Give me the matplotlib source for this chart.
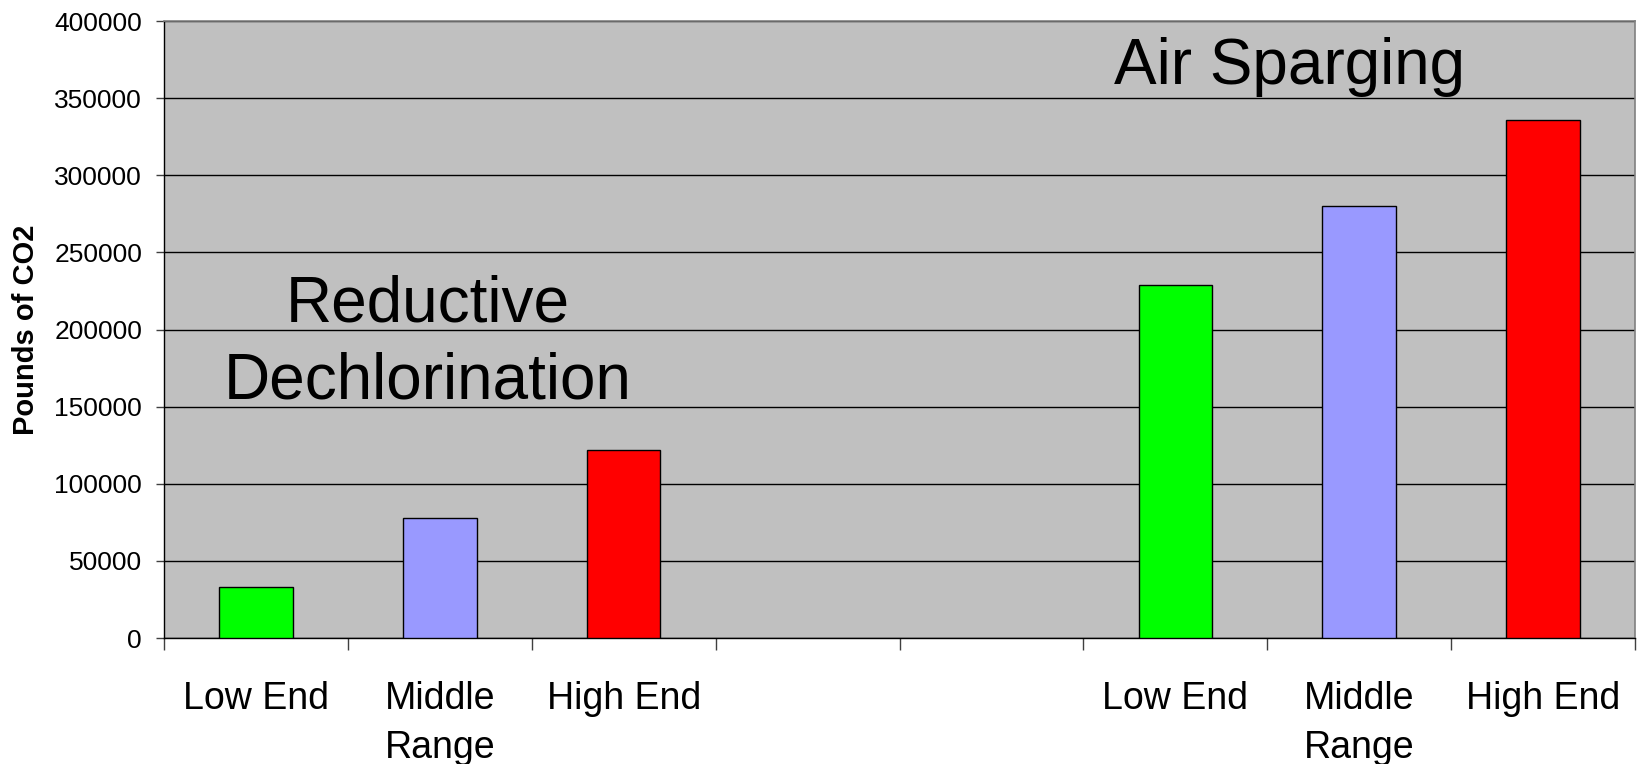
import matplotlib
matplotlib.use("Agg")
import matplotlib.pyplot as plt
import numpy as np

# Category slots along the x axis (two empty slots separate the groups)
categories = ["Low End", "Middle\nRange", "High End", "", "", "Low End", "Middle\nRange", "High End"]
values = [33000, 78000, 122000, 0, 0, 229000, 280000, 336000]
bar_colors = ["#00FF00", "#9999FF", "#FF0000", "none", "none", "#00FF00", "#9999FF", "#FF0000"]
y_ticks = [0, 50000, 100000, 150000, 200000, 250000, 300000, 350000, 400000]

plt.rcParams["font.family"] = ["Liberation Sans", "DejaVu Sans"]

fig = plt.figure(figsize=(16.4, 7.64), dpi=100)
ax = fig.add_axes([0.1, 0.1649, 0.897, 0.8076])
ax.set_facecolor("#C0C0C0")

x = np.arange(len(categories))
shown = [i for i, v in enumerate(values) if v > 0]
ax.bar(x[shown], [values[i] for i in shown], width=0.4,
       color=[bar_colors[i] for i in shown], edgecolor="black", linewidth=1.0, zorder=3)

ax.set_xlim(-0.5, len(categories) - 0.5)
ax.set_ylim(0, 400000)
ax.set_yticks(y_ticks)
ax.set_yticklabels([str(t) for t in y_ticks], fontsize=19)
ax.yaxis.grid(True, color="black", linewidth=1.0, zorder=1)
ax.set_axisbelow(True)

ax.set_xticks(x)
ax.set_xticklabels(categories, fontsize=27, linespacing=1.45)
ax.set_xticks(np.arange(-0.5, len(categories)), minor=True)
ax.tick_params(axis="x", which="major", length=0, pad=31)
ax.tick_params(axis="x", which="minor", length=8.6, width=1.0, color="#404040")
ax.tick_params(axis="y", length=5.8, width=1.0, pad=10, color="#404040")

ax.set_ylabel("Pounds of CO2", fontsize=21, fontweight="bold", labelpad=10)

for side in ("top", "right"):
    ax.spines[side].set_color("#808080")
    ax.spines[side].set_linewidth(1.2)
for side in ("left", "bottom"):
    ax.spines[side].set_color("black")
    ax.spines[side].set_linewidth(1.0)

ax.text(0.933, 204900, "Reductive", fontsize=46, ha="center", va="baseline", zorder=4)
ax.text(0.933, 155600, "Dechlorination", fontsize=46, ha="center", va="baseline", zorder=4)
ax.text(5.62, 359000, "Air Sparging", fontsize=46, ha="center", va="baseline", zorder=4)

fig.savefig("out.png", dpi=100)
